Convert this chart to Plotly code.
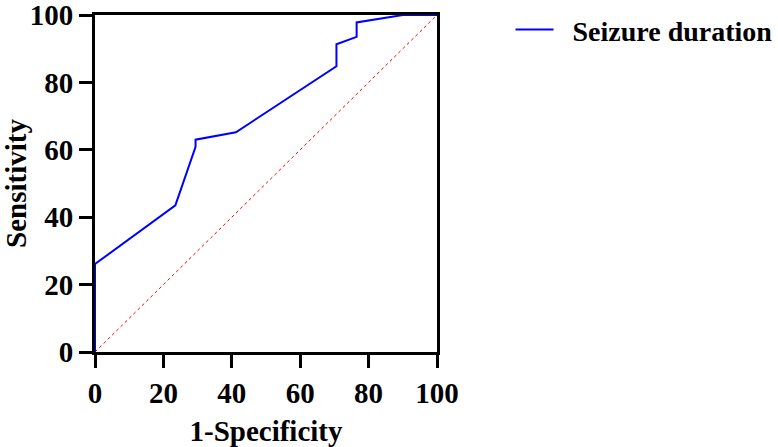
import plotly.graph_objects as go

# ROC curve data (percent)
fpr = [0, 0, 23.5, 29.4, 29.4, 41.2, 70.6, 70.6, 76.5, 76.5, 90.0, 100]
tpr = [0, 26.1, 43.5, 60.9, 63.0, 65.2, 84.8, 91.3, 93.5, 97.8, 100, 100]
ref_x = [0, 100]
ref_y = [0, 100]
series_name = "\u00a0\u00a0Seizure duration"
ticks = [0, 20, 40, 60, 80, 100]

font_fam = "Liberation Serif, Times New Roman, serif"
FS = 29

fig = go.Figure()
fig.add_trace(go.Scatter(x=ref_x, y=ref_y, mode="lines",
                         line=dict(color="#ff0000", width=1, dash="dot"),
                         showlegend=False, hoverinfo="skip"))
fig.add_trace(go.Scatter(x=fpr, y=tpr, mode="lines", name=series_name,
                         line=dict(color="#0000ff", width=2)))

axis_common = dict(range=[0, 100], tickvals=ticks, ticks="outside", ticklen=13,
                   tickwidth=3, tickcolor="black", showline=True, linewidth=3,
                   linecolor="black", showgrid=False, zeroline=False,
                   layer="below traces", ticklabeloverflow="allow", automargin=False,
                   tickfont=dict(family=font_fam, size=FS, color="black", weight="bold"))

fig.update_xaxes(**axis_common, mirror=True,
                 title=dict(text="1-Specificity", standoff=14,
                            font=dict(family=font_fam, size=FS, color="black", weight="bold")))
fig.update_yaxes(**axis_common, mirror=True,
                 title=dict(text="Sensitivity", standoff=18,
                            font=dict(family=font_fam, size=FS, color="black", weight="bold")))

fig.update_layout(
    width=778, height=447,
    margin=dict(l=95, r=341, t=15, b=95, autoexpand=False),
    paper_bgcolor="white", plot_bgcolor="white",
    showlegend=True,
    legend=dict(x=1.215, y=1.03, xanchor="left", yanchor="top",
                font=dict(family=font_fam, size=28, color="black", weight="bold"),
                bgcolor="rgba(0,0,0,0)", itemwidth=38),
)

fig.write_html("out.html")
